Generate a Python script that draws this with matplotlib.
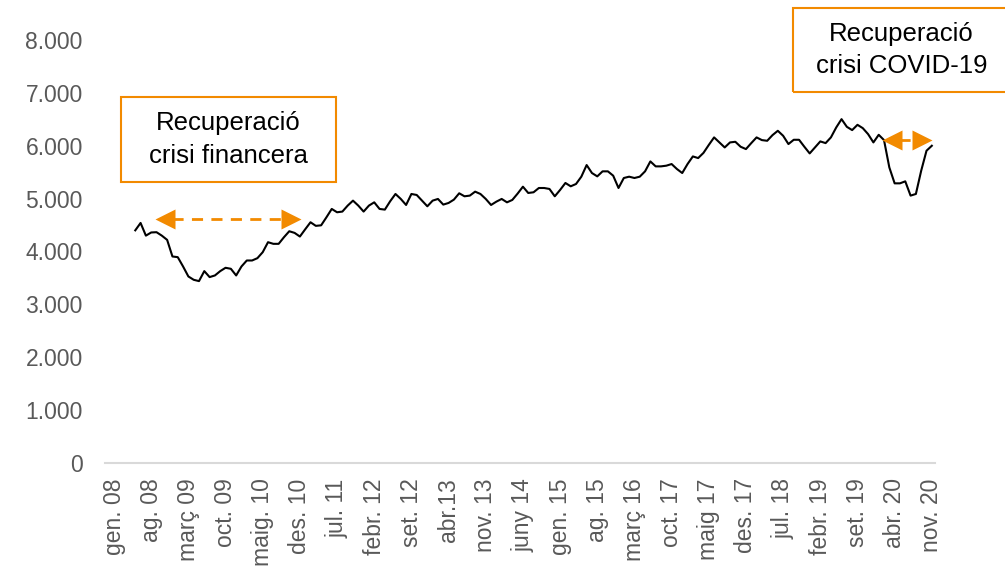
import matplotlib
matplotlib.use('Agg')
import matplotlib.pyplot as plt
from matplotlib.patches import Rectangle

plt.rcParams['font.family'] = ['Liberation Sans', 'DejaVu Sans']

# Etiquetes de l'eix X (cada 7 mesos, des de gen. 08)
tick_months = list(range(0, 155, 7))
tick_labels = ['gen. 08', 'ag. 08', 'març 09', 'oct. 09', 'maig. 10', 'des. 10',
               'jul. 11', 'febr. 12', 'set. 12', 'abr.13', 'nov. 13', 'juny 14',
               'gen. 15', 'ag. 15', 'març 16', 'oct. 17', 'maig 17', 'des. 17',
               'jul. 18', 'febr. 19', 'set. 19', 'abr. 20', 'nov. 20']

# Serie mensual, de maig 08 (mes 4) a nov. 20 (mes 154)
start_month = 4
valors = [4400, 4540, 4300, 4360, 4365, 4300, 4220, 3906, 3893, 3717,
          3528, 3465, 3440, 3629, 3516, 3547, 3629, 3692, 3673, 3547,
          3717, 3830, 3830, 3874, 3987, 4176, 4145, 4145, 4270, 4383,
          4352, 4283, 4420, 4553, 4485, 4495, 4647, 4805, 4742, 4755,
          4868, 4962, 4868, 4755, 4868, 4930, 4805, 4792, 4950, 5088,
          4994, 4880, 5088, 5069, 4962, 4855, 4962, 4994, 4887, 4918,
          4981, 5101, 5044, 5057, 5132, 5088, 4994, 4880, 4943, 4994,
          4930, 4975, 5095, 5226, 5107, 5120, 5201, 5201, 5183, 5044,
          5164, 5296, 5233, 5277, 5415, 5635, 5484, 5421, 5516, 5516,
          5434, 5201, 5390, 5415, 5390, 5415, 5516, 5704, 5610, 5610,
          5623, 5654, 5560, 5484, 5654, 5798, 5767, 5865, 6015, 6158,
          6063, 5968, 6063, 6075, 5981, 5937, 6050, 6158, 6107, 6094,
          6201, 6283, 6189, 6032, 6113, 6113, 5981, 5855, 5968, 6082,
          6050, 6158, 6346, 6503, 6358, 6296, 6396, 6333, 6220, 6063,
          6207, 6107, 5590, 5289, 5289, 5327, 5057, 5088, 5528, 5906,
          6000]
mesos = list(range(start_month, start_month + len(valors)))

orange = '#f28a00'
W, H = 1005, 573

fig = plt.figure(figsize=(W / 100, H / 100), dpi=100)
ax = fig.add_axes([105 / W, 1 - 463 / H, 830 / W, 423 / H])

ax.plot(mesos, valors, color='black', lw=1.5)

ax.set_xlim(-1.7, 154.6)
ax.set_ylim(0, 8000)
ax.set_yticks(range(0, 8001, 1000))
ax.set_yticklabels(['0'] + [f'{v // 1000}.000' for v in range(1000, 8001, 1000)])
ax.set_xticks(tick_months)
ax.set_xticklabels(tick_labels, rotation=90)
ax.tick_params(axis='both', length=0, labelsize=16.5, labelcolor='#595959')
ax.tick_params(axis='y', pad=16)
ax.tick_params(axis='x', pad=11)
for s in ['top', 'right', 'left']:
    ax.spines[s].set_visible(False)
ax.spines['bottom'].set_color('#d9d9d9')
ax.spines['bottom'].set_linewidth(1.5)

# Fletxes de recuperacio
def fletxa(x0, x1, y):
    ax.plot([x0 + 2.6, x1 - 2.6], [y, y], color=orange, lw=2, ls=(0, (4, 3)))
    ax.plot([x0 + 1.3], [y], marker='<', color=orange, ms=14, mec='none')
    ax.plot([x1 - 1.3], [y], marker='>', color=orange, ms=14, mec='none')

fletxa(8.3, 34.6, 4623)
fletxa(145.2, 153.5, 6113)

# Caixes de text
def caixa(x0, y0, x1, y1, text):
    fig.add_artist(Rectangle((x0 / W, 1 - y1 / H), (x1 - x0) / W, (y1 - y0) / H,
                             transform=fig.transFigure, fill=False, ec=orange, lw=1.5))
    fig.text((x0 + x1) / 2 / W, 1 - (y0 + y1) / 2 / H, text, ha='center', va='center',
             fontsize=18.5, color='black', linespacing=1.45)

caixa(121, 97, 336, 182, 'Recuperació\ncrisi financera')
caixa(793, 8, 1010, 92, 'Recuperació\ncrisi COVID-19')

fig.savefig('out.png', dpi=100)
